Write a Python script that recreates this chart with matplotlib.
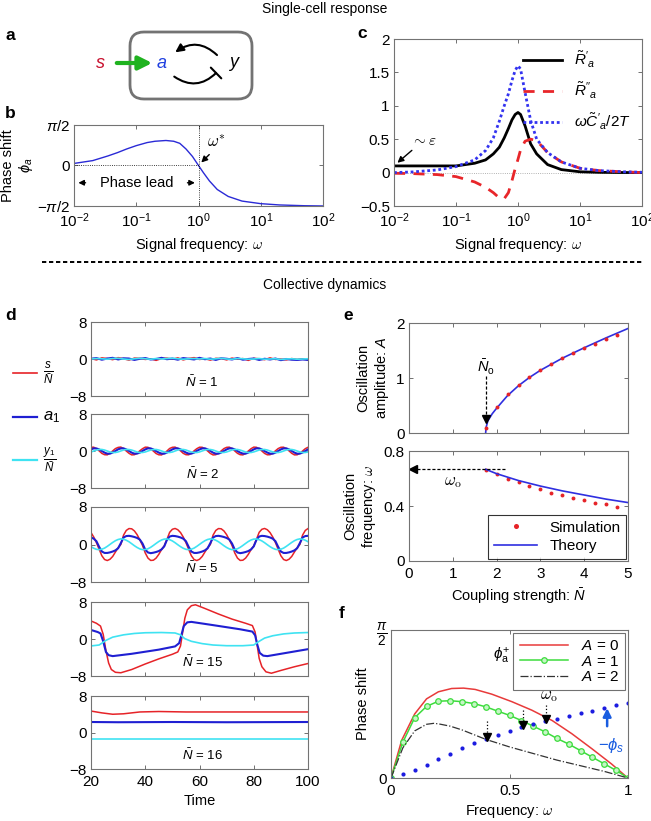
import numpy as np
import matplotlib.pyplot as plt
from matplotlib.patches import FancyBboxPatch
from matplotlib.ticker import NullLocator

plt.rcParams['font.family'] = ['Liberation Sans', 'DejaVu Sans']
plt.rcParams['mathtext.fontset'] = 'custom'
plt.rcParams['mathtext.rm'] = 'Liberation Sans'
plt.rcParams['mathtext.it'] = 'Liberation Sans:italic'
plt.rcParams['mathtext.bf'] = 'Liberation Sans:bold'
plt.rcParams['font.size'] = 10

W, H = 651, 821

# ---- panel b: phase shift of a single cell ----
b_freq = [0.01, 0.02, 0.035, 0.05, 0.07, 0.1, 0.15, 0.2, 0.3, 0.4, 0.5, 0.63, 0.8,
          1.0, 1.2, 1.5, 2.0, 3.0, 5.0, 10, 20, 50, 100]
b_phase = [0.08, 0.19, 0.37, 0.5, 0.64, 0.77, 0.89, 0.94, 0.97, 0.94, 0.86, 0.64, 0.35,
           0.0, -0.28, -0.6, -0.93, -1.2, -1.38, -1.48, -1.53, -1.56, -1.57]

# ---- panel c: response functions ----
c_freq = [0.01, 0.02, 0.05, 0.1, 0.2, 0.3, 0.4, 0.5, 0.6, 0.7, 0.8, 0.9, 1.0, 1.1,
          1.3, 1.6, 2.0, 3.0, 5.0, 10, 20, 50, 100]
c_r1 = [0.1, 0.1, 0.1, 0.1, 0.14, 0.19, 0.28, 0.38, 0.52, 0.66, 0.79, 0.87, 0.9, 0.87,
        0.7, 0.43, 0.28, 0.12, 0.045, 0.012, 0.004, 0.001, 0.0]
c_r2 = [-0.01, -0.015, -0.03, -0.06, -0.14, -0.22, -0.3, -0.38, -0.39, -0.3, -0.12, 0.06,
        0.2, 0.34, 0.47, 0.5, 0.48, 0.3, 0.16, 0.065, 0.03, 0.012, 0.0]
c_wc = [0.0, 0.01, 0.04, 0.09, 0.19, 0.33, 0.52, 0.77, 1.0, 1.18, 1.38, 1.53, 1.6, 1.55,
        1.2, 0.78, 0.5, 0.3, 0.16, 0.065, 0.03, 0.012, 0.005]

# ---- panel d: time courses ----
t_n1 = np.arange(20, 101, 2)
s_n1 = [0.1, -0.2, 0.25, 0.1, -0.15, 0.3, 0.05, -0.25, 0.2, 0.15, -0.1, 0.05, -0.3, 0.1,
        0.2, -0.05, 0.25, -0.2, 0.1, 0.3, -0.1, 0.05, -0.25, 0.15, 0.1, -0.2, 0.2, -0.05,
        0.1, -0.3, 0.15, 0.05, -0.15, 0.25, -0.1, 0.0, -0.2, 0.1, -0.1, 0.05, -0.15]
a_n1 = [0.05, 0.2, -0.15, 0.1, 0.25, -0.1, 0.15, 0.1, -0.2, 0.05, 0.2, -0.1, 0.0, 0.25,
        -0.05, 0.1, -0.15, 0.2, 0.05, -0.1, 0.25, -0.05, 0.1, -0.2, 0.15, 0.05, -0.1, 0.2,
        -0.15, 0.0, 0.1, -0.2, 0.05, -0.1, 0.1, -0.25, 0.0, -0.15, -0.2, -0.1, -0.2]
y_n1 = [0.0, 0.1, 0.05, -0.05, 0.1, 0.15, 0.0, -0.1, 0.05, 0.15, 0.05, -0.05, 0.1, 0.0,
        0.1, 0.15, 0.05, -0.05, 0.05, 0.1, 0.0, 0.1, -0.05, 0.05, 0.15, 0.0, -0.05, 0.1,
        0.05, -0.05, 0.0, 0.1, -0.05, 0.0, 0.05, -0.1, 0.0, 0.05, -0.05, 0.0, 0.05]

t_n2 = np.arange(20, 101, 1)
s_n2 = [0.8, 0.82, 0.48, 0.03, -0.52, -0.8, -0.83, -0.47, 0.02, 0.52,
        0.78, 0.85, 0.5, 0.0, -0.5, -0.84, -0.8, -0.5, 0.05, 0.5,
        0.83, 0.8, 0.45, -0.02, -0.55, -0.82, -0.85, -0.45, 0.0, 0.55,
        0.8, 0.84, 0.5, 0.04, -0.5, -0.8, -0.82, -0.5, 0.03, 0.5,
        0.82, 0.8, 0.47, 0.0, -0.53, -0.85, -0.8, -0.48, 0.02, 0.52,
        0.79, 0.83, 0.5, 0.02, -0.5, -0.8, -0.84, -0.5, 0.0, 0.5,
        0.84, 0.8, 0.46, 0.0, -0.52, -0.82, -0.8, -0.47, 0.04, 0.53,
        0.8, 0.82, 0.5, 0.03, -0.5, -0.84, -0.82, -0.5, 0.0, 0.5, 0.8]
a_n2 = [0.35, 0.57, 0.55, 0.35, 0.0, -0.35, -0.58, -0.57, -0.33, 0.0,
        0.37, 0.56, 0.57, 0.34, 0.02, -0.36, -0.57, -0.55, -0.35, 0.01,
        0.35, 0.58, 0.56, 0.33, -0.02, -0.35, -0.56, -0.58, -0.34, 0.0,
        0.36, 0.57, 0.57, 0.35, 0.0, -0.34, -0.57, -0.56, -0.35, 0.02,
        0.34, 0.56, 0.58, 0.35, 0.01, -0.36, -0.58, -0.57, -0.33, 0.0,
        0.35, 0.57, 0.56, 0.34, 0.0, -0.35, -0.56, -0.57, -0.35, 0.01,
        0.36, 0.58, 0.57, 0.33, -0.01, -0.34, -0.57, -0.58, -0.36, 0.0,
        0.35, 0.56, 0.57, 0.35, 0.02, -0.35, -0.58, -0.56, -0.34, 0.0, 0.35]
y_n2 = [-0.21, 0.0, 0.21, 0.33, 0.33, 0.21, 0.0, -0.21, -0.33, -0.33,
        -0.2, 0.01, 0.22, 0.33, 0.32, 0.2, 0.0, -0.22, -0.33, -0.32,
        -0.21, 0.0, 0.2, 0.32, 0.33, 0.21, 0.01, -0.2, -0.33, -0.33,
        -0.22, 0.0, 0.21, 0.33, 0.33, 0.22, 0.0, -0.21, -0.32, -0.33,
        -0.2, 0.01, 0.21, 0.33, 0.32, 0.21, 0.0, -0.21, -0.33, -0.32,
        -0.21, 0.0, 0.22, 0.33, 0.33, 0.2, 0.0, -0.22, -0.33, -0.33,
        -0.2, 0.0, 0.21, 0.32, 0.33, 0.21, 0.01, -0.21, -0.33, -0.33,
        -0.21, 0.0, 0.21, 0.33, 0.32, 0.21, 0.0, -0.2, -0.33, -0.33, -0.21]

t_n5 = np.arange(20, 101, 1)
s_n5 = [2.55, 1.6, 0.4, -1.0, -2.4, -3.2, -3.42, -3.15, -2.55, -1.6, -0.7,
        0.0, 2.0, 3.0, 3.4, 3.35, 2.9, 2.1, 1.0, -0.2, -1.8, -2.9, -3.4, -3.35, -2.9, -2.1, -1.1, -0.3,
        1.1, 2.6, 3.25, 3.42, 3.15, 2.55, 1.6, 0.4, -1.0, -2.4, -3.2, -3.42, -3.15, -2.55, -1.6, -0.7, 0.0,
        2.0, 3.0, 3.4, 3.35, 2.9, 2.1, 1.0, -0.2, -1.8, -2.9, -3.4, -3.35, -2.9, -2.1, -1.1, -0.3,
        1.1, 2.6, 3.25, 3.42, 3.15, 2.55, 1.6, 0.4, -1.0, -2.4, -3.2, -3.42, -3.15, -2.55, -1.6, -0.7,
        0.0, 2.0, 3.0, 3.4]
a_n5 = [1.5, 1.25, 0.7, -0.5, -1.5, -1.8, -1.8, -1.68, -1.5, -1.25, -0.8,
        0.3, 1.5, 1.8, 1.85, 1.75, 1.6, 1.4, 1.05, 0.2, -1.1, -1.7, -1.85, -1.75, -1.6, -1.4, -1.05, -0.4,
        1.0, 1.7, 1.85, 1.8, 1.68, 1.5, 1.25, 0.7, -0.5, -1.5, -1.8, -1.8, -1.68, -1.5, -1.25, -0.8, 0.3,
        1.5, 1.8, 1.85, 1.75, 1.6, 1.4, 1.05, 0.2, -1.1, -1.7, -1.85, -1.75, -1.6, -1.4, -1.05, -0.4,
        1.0, 1.7, 1.85, 1.8, 1.68, 1.5, 1.25, 0.7, -0.5, -1.5, -1.8, -1.8, -1.68, -1.5, -1.25, -0.8,
        0.3, 1.5, 1.8, 1.85]
y_n5 = [-0.46, -0.8, -1.03, -1.1, -1.0, -0.77, -0.4, 0.02, 0.44, 0.81, 1.07,
        1.2, 1.13, 0.91, 0.59, 0.17, -0.26, -0.64, -0.94, -1.09, -1.08, -0.91, -0.6, -0.2, 0.23, 0.64, 0.96, 1.15,
        1.18, 1.03, 0.76, 0.38, -0.05, -0.46, -0.8, -1.03, -1.1, -1.0, -0.77, -0.4, 0.02, 0.44, 0.81, 1.07, 1.2,
        1.13, 0.91, 0.59, 0.17, -0.26, -0.64, -0.94, -1.09, -1.08, -0.91, -0.6, -0.2, 0.23, 0.64, 0.96, 1.15,
        1.18, 1.03, 0.76, 0.38, -0.05, -0.46, -0.8, -1.03, -1.1, -1.0, -0.77, -0.4, 0.02, 0.44, 0.81, 1.07,
        1.2, 1.13, 0.91, 0.59]

ts_n15 = [20, 22, 23.5, 24.5, 25.5, 26.5, 27.5, 29, 31, 35, 40, 45, 50, 52, 53, 53.8, 54.6,
          55.5, 57, 58.5, 62, 67, 72, 77, 79.5, 80.5, 81.3, 82, 83, 84.5, 86.5, 90, 95, 100]
s_n15 = [3.9, 3.4, 2.8, 1.0, -2.5, -5.2, -6.6, -7.2, -7.3, -6.6, -5.4, -4.3, -3.3, -2.8,
         -1.5, 1.5, 4.5, 6.3, 7.2, 7.4, 6.6, 5.4, 4.3, 3.4, 2.9, 1.5, -1.5, -4.2, -6.0,
         -7.1, -7.4, -6.8, -6.0, -5.3]
ta_n15 = [20, 22.5, 23.5, 24.5, 25.5, 26.5, 28, 35, 45, 51, 52.5, 53.3, 54.2, 55.5, 57,
          65, 75, 79.5, 80.5, 81.3, 82.2, 83.5, 85, 90, 100]
a_n15 = [1.95, 1.5, 1.2, -0.5, -2.8, -3.5, -3.7, -3.2, -2.3, -1.6, -0.9, 0.8, 2.8, 3.6,
         3.7, 3.0, 2.1, 1.6, 0.8, -1.2, -3.0, -3.6, -3.7, -3.2, -2.2]
ty_n15 = [20, 23, 25.5, 28, 32, 36, 40, 46, 51, 53, 54.5, 57, 61, 65, 70, 76, 80, 82, 84,
          87, 91, 95, 100]
y_n15 = [-1.5, -1.3, -0.3, 0.4, 0.9, 1.2, 1.35, 1.4, 1.3, 0.9, 0.1, -0.5, -1.0, -1.3,
         -1.45, -1.45, -1.3, -0.5, 0.2, 0.7, 1.1, 1.3, 1.4]

ts_n16 = [20, 24, 28, 32, 38, 45, 55, 70, 85, 100]
s_n16 = [4.7, 4.3, 4.0, 4.1, 4.5, 4.6, 4.5, 4.5, 4.5, 4.5]
ta_n16 = [20, 30, 50, 70, 100]
a_n16 = [2.3, 2.25, 2.3, 2.25, 2.3]
ty_n16 = [20, 100]
y_n16 = [-1.45, -1.45]

d_panels = [
    ('1', (t_n1, s_n1), (t_n1, a_n1), (t_n1, y_n1)),
    ('2', (t_n2, s_n2), (t_n2, a_n2), (t_n2, y_n2)),
    ('5', (t_n5, s_n5), (t_n5, a_n5), (t_n5, y_n5)),
    ('15', (ts_n15, s_n15), (ta_n15, a_n15), (ty_n15, y_n15)),
    ('16', (ts_n16, s_n16), (ta_n16, a_n16), (ty_n16, y_n16)),
]

# ---- panel e: amplitude and frequency vs coupling ----
e_sim_n = [1.75, 2.0, 2.25, 2.5, 2.75, 3.0, 3.25, 3.5, 3.75, 4.0, 4.25, 4.5, 4.75]
e_sim_amp = [0.09, 0.47, 0.7, 0.87, 1.02, 1.14, 1.25, 1.36, 1.45, 1.54, 1.62, 1.7, 1.78]
e_sim_freq = [0.663, 0.63, 0.6, 0.575, 0.549, 0.522, 0.498, 0.478, 0.459, 0.442, 0.425, 0.413, 0.396]
e_th_n = [1.75, 1.76, 1.8, 1.9, 2.0, 2.25, 2.5, 2.75, 3.0, 3.5, 4.0, 4.5, 5.0]
e_th_amp = [0.0, 0.1, 0.22, 0.35, 0.45, 0.68, 0.86, 1.01, 1.14, 1.36, 1.55, 1.73, 1.9]
e_thf_n = [1.75, 2.0, 2.5, 3.0, 3.5, 4.0, 4.5, 5.0]
e_th_freq = [0.667, 0.635, 0.585, 0.545, 0.51, 0.48, 0.45, 0.425]

# ---- panel f: phase shift vs frequency ----
f_w0 = [0.0, 0.045, 0.1, 0.15, 0.2, 0.256, 0.306, 0.355, 0.425, 0.51, 0.594, 0.68, 0.763,
        0.848, 0.93, 0.99, 1.0]
f_A0 = [0.0, 0.4, 0.68, 0.84, 0.915, 0.95, 0.954, 0.94, 0.89, 0.81, 0.72, 0.61, 0.47,
        0.31, 0.15, 0.02, 0.0]
f_w1 = [0.0, 0.05, 0.1, 0.15, 0.2, 0.25, 0.3, 0.35, 0.4, 0.45, 0.5, 0.55, 0.6, 0.65, 0.7,
        0.75, 0.8, 0.85, 0.9, 0.95, 1.0]
f_A1 = [0.0, 0.38, 0.64, 0.76, 0.815, 0.82, 0.81, 0.79, 0.755, 0.71, 0.665, 0.61, 0.55,
        0.49, 0.42, 0.36, 0.29, 0.22, 0.15, 0.08, 0.0]
f_w2 = [0.0, 0.05, 0.1, 0.15, 0.18, 0.2, 0.25, 0.3, 0.35, 0.4, 0.5, 0.6, 0.7, 0.8, 0.9, 0.95, 1.0]
f_A2 = [0.0, 0.32, 0.5, 0.57, 0.58, 0.575, 0.55, 0.51, 0.46, 0.41, 0.33, 0.26, 0.19, 0.13,
        0.07, 0.035, 0.0]
f_phis = [0.0, 0.04, 0.09, 0.14, 0.2, 0.26, 0.32, 0.37, 0.41, 0.46, 0.5, 0.54, 0.57, 0.6,
          0.63, 0.66, 0.69, 0.71, 0.74, 0.77, 0.8]

RED = '#e62328'
BLUE = '#1f1fd2'
CYAN = '#3fe3f2'
TICK_FS = 11

fig = plt.figure(figsize=(W / 100, H / 100), dpi=100)


def px_axes(l, t, r, b):
    return fig.add_axes([l / W, 1 - b / H, (r - l) / W, (b - t) / H])


def style(ax, fs=TICK_FS):
    for s in ax.spines.values():
        s.set_color('0.45')
        s.set_linewidth(0.8)
    ax.tick_params(direction='in', top=True, right=True, length=3, width=0.6,
                   color='0.35', labelsize=fs, pad=3)
    ax.tick_params(axis='x', pad=4)


# panel b
ax = px_axes(74, 125, 323, 206)
ax.semilogx(b_freq, b_phase, color='#2a2ad6', lw=1)
ax.plot([0.01, 1], [0, 0], color='k', lw=0.6, ls=':')
ax.axvline(1, color='k', lw=0.6, ls=':')
ax.set_xlim(1e-2, 1e2)
ax.set_ylim(-np.pi / 2, np.pi / 2)
ax.set_yticks([-np.pi / 2, 0, np.pi / 2])
ax.set_yticklabels([r'$-\pi$/2', '0', r'$\pi$/2'])
ax.set_xticks([1e-2, 1e-1, 1, 1e1, 1e2])
ax.xaxis.set_minor_locator(NullLocator())
style(ax)
ax.set_xlabel(r'Signal frequency: $\omega$', math_fontfamily='cm', fontsize=10.5)
ax.set_ylabel('Phase shift\n' + r'$\phi_a$', fontsize=10.5, labelpad=1)
ax.text(0.1, -0.67, 'Phase lead', ha='center', va='center', fontsize=10.5)
ax.annotate('', xy=(0.0106, -0.67), xytext=(0.017, -0.67),
            arrowprops=dict(arrowstyle='-|>', color='k', lw=1, mutation_scale=8))
ax.annotate('', xy=(0.97, -0.67), xytext=(0.6, -0.67),
            arrowprops=dict(arrowstyle='-|>', color='k', lw=1, mutation_scale=8))
ax.text(1.35, 0.74, r'$\omega^{*}$', math_fontfamily='cm', fontsize=12)
ax.annotate('', xy=(1.03, 0.04), xytext=(1.6, 0.5),
            arrowprops=dict(arrowstyle='-|>', color='k', lw=1, mutation_scale=9))

# panel c
ax = px_axes(394, 39, 642, 206)
ax.axhline(0, color='0.6', lw=0.6, ls=':')
ax.semilogx(c_freq, c_r1, color='k', lw=2, label=r"$\tilde{R}'_a$")
ax.semilogx(c_freq, c_r2, color='#e8262a', lw=2, ls=(0, (4, 3)), label=r"$\tilde{R}''_a$")
ax.semilogx(c_freq, c_wc, color='#3333f0', lw=2, ls=(0, (1, 1)),
            label=r"$\omega\tilde{C}'_a/2T$")
ax.set_xlim(1e-2, 1e2)
ax.set_ylim(-0.5, 2)
ax.set_yticks([-0.5, 0, 0.5, 1, 1.5, 2])
ax.set_yticklabels(['\u22120.5', '0', '0.5', '1', '1.5', '2'])
ax.set_xticks([1e-2, 1e-1, 1, 1e1, 1e2])
ax.xaxis.set_minor_locator(NullLocator())
style(ax)
ax.set_xlabel(r'Signal frequency: $\omega$', math_fontfamily='cm', fontsize=10.5)
leg = ax.legend(loc='upper right', frameon=False, fontsize=11, handlelength=2.6,
                labelspacing=0.7, borderaxespad=0.3)
ax.text(0.019, 0.42, r'$\sim\varepsilon$', math_fontfamily='cm', fontsize=11)
ax.annotate('', xy=(0.0105, 0.12), xytext=(0.021, 0.36),
            arrowprops=dict(arrowstyle='-|>', color='k', lw=1, mutation_scale=9))

# panel d
d_boxes = [(322, 396), (414, 488), (507, 582), (602, 676), (696, 769)]
for (top, bot), (nb, sd, ad, yd) in zip(d_boxes, d_panels):
    ax = px_axes(91, top, 308, bot)
    ax.plot(sd[0], sd[1], color=RED, lw=1.1)
    ax.plot(ad[0], ad[1], color=BLUE, lw=1.5)
    ax.plot(yd[0], yd[1], color=CYAN, lw=1.2)
    ax.set_xlim(20, 100)
    ax.set_ylim(-8, 8)
    ax.set_yticks([-8, 0, 8])
    ax.set_xticks([20, 40, 60, 80, 100])
    style(ax)
    if nb != '16':
        ax.set_xticklabels([])
    ax.text(61, -5.0, r'$\bar{N}$ = ' + nb, ha='center', va='center', fontsize=9.5)
ax.set_xlabel('Time', fontsize=10.5)

# panel e
ax = px_axes(409, 323, 628, 433)
ax.plot(e_th_n, e_th_amp, color='#2f2fe0', lw=1.2)
ax.plot(e_sim_n, e_sim_amp, ls='none', marker='o', ms=2.8, color=RED, mec='none')
ax.plot([1.75, 1.75], [1.03, 0.3], color='k', lw=0.9, ls=(0, (2.5, 1.5)))
ax.plot([1.75], [0.26], marker='v', color='k', ms=6)
ax.text(1.75, 1.2, r'$\bar{N}_\mathrm{o}$', ha='center', va='center', fontsize=10.5)
ax.set_xlim(0, 5)
ax.set_ylim(0, 2)
ax.set_yticks([0, 1, 2])
ax.set_xticks([0, 1, 2, 3, 4, 5])
ax.set_xticklabels([])
style(ax)
ax.set_ylabel('Oscillation\namplitude: ' + r'$A$', fontsize=10.5)

ax = px_axes(409, 451, 628, 561)
ax.plot(e_sim_n, e_sim_freq, ls='none', marker='o', ms=2.8, color=RED, mec='none',
        label='Simulation')
ax.plot(e_thf_n, e_th_freq, color='#2f2fe0', lw=1.2, label='Theory')
ax.plot([2.2, 0.12], [0.667, 0.667], color='k', lw=0.9, ls=(0, (2.5, 1.5)))
ax.plot([0.09], [0.667], marker='<', color='k', ms=6)
ax.text(1.0, 0.57, r'$\omega_\mathrm{o}$', ha='center', va='center',
        math_fontfamily='cm', fontsize=12)
ax.set_xlim(0, 5)
ax.set_ylim(0, 0.8)
ax.set_yticks([0, 0.4, 0.8])
ax.set_yticklabels(['0', '0.4', '0.8'])
ax.set_xticks([0, 1, 2, 3, 4, 5])
style(ax)
ax.set_ylabel('Oscillation\nfrequency: ' + r'$\omega$', math_fontfamily='cm', fontsize=10.5)
ax.set_xlabel('Coupling strength: ' + r'$\bar{N}$', fontsize=10.5)
leg = ax.legend(loc='lower right', frameon=True, fancybox=False, edgecolor='k',
                fontsize=11, handlelength=2.8, borderaxespad=0.1, markerscale=1.3,
                labelspacing=0.3)
leg.get_frame().set_linewidth(0.8)

# panel f
ax = px_axes(391, 630, 628, 778)
ax.plot(f_w0, f_A0, color='#e83a3a', lw=1.1, label=r'$A$ = 0')
ax.plot(f_w1, f_A1, color='#3ddc3d', lw=1.1, marker='o', ms=4, mfc='#c6f5c6',
        mec='#3ddc3d', mew=0.9, label=r'$A$ = 1')
ax.plot(f_w2, f_A2, color='#333333', lw=0.9, ls='-.', label=r'$A$ = 2')
ax.plot(f_w1, f_phis, ls='none', marker='o', ms=3, color='#1c1ce0', mec='none')
for xa, y0, y1 in [(0.405, 0.6, 0.43), (0.555, 0.72, 0.56), (0.655, 0.78, 0.63)]:
    ax.plot([xa, xa], [y0, y1 + 0.03], color='k', lw=0.9, ls=':')
    ax.plot([xa], [y1], marker='v', color='k', ms=6)
ax.text(0.665, 0.87, r'$\omega_\mathrm{o}$', ha='center', va='center',
        math_fontfamily='cm', fontsize=12)
ax.annotate('', xy=(0.912, 0.77), xytext=(0.912, 0.52),
            arrowprops=dict(arrowstyle='-|>', color='#1a5de0', lw=1.8, mutation_scale=12))
ax.text(0.93, 0.35, r'$-\phi_s$', color='#1a5de0', ha='center', va='center', fontsize=12)
ax.text(0.465, 1.3, r'$\phi_\mathrm{a}^{+}$', ha='center', va='center', fontsize=11)
ax.set_xlim(0, 1)
ax.set_ylim(0, np.pi / 2)
ax.set_xticks([0, 0.5, 1])
ax.set_xticklabels(['0', '0.5', '1'])
ax.set_yticks([0, np.pi / 2])
ax.set_yticklabels(['0', r'$\frac{\pi}{2}$'])
style(ax)
ax.get_yticklabels()[1].set_fontsize(14)
ax.set_xlabel(r'Frequency: $\omega$', math_fontfamily='cm', fontsize=10.5)
ax.set_ylabel('Phase shift', fontsize=10.5)
leg = ax.legend(loc='upper right', frameon=True, fancybox=False, edgecolor='0.3',
                fontsize=11, handlelength=3.2, borderaxespad=0.2, labelspacing=0.1)
leg.get_frame().set_linewidth(0.8)

# overlay: diagram, headings, separators, panel letters, legend of d
ov = fig.add_axes([0, 0, 1, 1])
ov.set_xlim(0, W)
ov.set_ylim(H, 0)
ov.axis('off')
ov.patch.set_alpha(0)

ov.text(325, 9, 'Single-cell response', ha='center', va='center', fontsize=10)
ov.text(325, 285, 'Collective dynamics', ha='center', va='center', fontsize=10)
ov.plot([42, 642], [262, 262], color='k', lw=1.4, ls=(0, (2.2, 1.4)))

for lab, x, y in [('a', 5, 36), ('b', 5, 113), ('c', 357, 33), ('d', 5, 316),
                  ('e', 343, 315), ('f', 339, 613)]:
    ov.text(x, y, lab, fontsize=12.5, fontweight='bold', ha='left', va='center')

box = FancyBboxPatch((130, 32), 122, 67, boxstyle='round,pad=0,rounding_size=14',
                     fc='none', ec='0.45', lw=2)
ov.add_patch(box)
ov.text(100, 63, r'$s$', color='#c8102e', fontsize=13, ha='center', va='center')
ov.text(162, 63, r'$a$', color='#2040e0', fontsize=13, ha='center', va='center')
ov.text(234, 64, r'$y$', color='k', fontsize=13, ha='center', va='center')
ov.annotate('', xy=(155, 63), xytext=(114, 63),
            arrowprops=dict(arrowstyle='-|>', color='#1fb21f', lw=3, mutation_scale=20))
ov.annotate('', xy=(173, 54), xytext=(219, 57),
            arrowprops=dict(arrowstyle='-|>', color='k', lw=1.5, mutation_scale=12,
                            connectionstyle='arc3,rad=0.45'))
ov.annotate('', xy=(218, 71), xytext=(172, 75),
            arrowprops=dict(arrowstyle='-[, widthB=0.45, lengthB=0', color='k', lw=1.5,
                            mutation_scale=12, connectionstyle='arc3,rad=0.45'))

# legend of panel d
for yy, col, lw_, lab in [(373, RED, 1.2, r'$\frac{s}{\bar{N}}$'),
                          (417, BLUE, 1.6, r'$a_1$'),
                          (460, CYAN, 1.6, r'$\frac{y_1}{\bar{N}}$')]:
    ov.plot([13, 37], [yy, yy], color=col, lw=lw_)
    ov.text(43, yy, lab, fontsize=12, ha='left', va='center')

fig.savefig('out.png', dpi=100)
